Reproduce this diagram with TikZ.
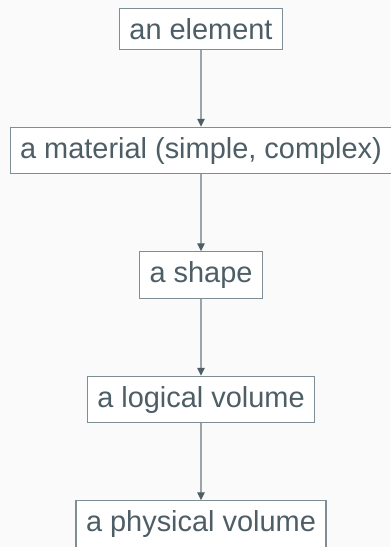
\documentclass[tikz,border=0pt]{standalone}
\usepackage{fontspec}
\setmainfont{Liberation Sans}
\usetikzlibrary{positioning,arrows.meta}
\definecolor{bgcol}{HTML}{FAFAFA}
\definecolor{txtcol}{HTML}{4E5E66}
\definecolor{boxcol}{HTML}{7F8E94}
\definecolor{linecol}{HTML}{9AA5AA}
\begin{document}
\begin{tikzpicture}[x=0.75pt,y=-0.75pt]
			\tikzset{box/.style = {draw=boxcol, line width=0.8pt, fill=white, text=txtcol, inner xsep=7.5pt, inner ysep=7.3pt, font=\fontsize{21.7pt}{26pt}\selectfont}}
			\tikzset{edge/.style = {draw=linecol, line width=1pt, -{Triangle[width=5.5pt,length=6pt,color=txtcol]}}}
			\fill[bgcol] (0,0) rectangle (390,547);
			\useasboundingbox (0,0) rectangle (390,547);
			% Draw the chain
			\node[box, anchor=north] (elem) at (201,8) {an element};
			\node[box, below=57.75pt of elem] (mat) {a material (simple, complex)};
			\node[box, below=57.75pt of mat] (shape) {a shape};
			\node[box, below=57.75pt of shape] (lvol) {a logical volume};
			\node[box, below=57.75pt of lvol] (pvol) {a physical volume};
			\draw[edge] (elem) -- (mat);
			\draw[edge] (mat) -- (shape);
			\draw[edge] (shape) -- (lvol);
			\draw[edge] (lvol) -- (pvol);
		\end{tikzpicture}
\end{document}
